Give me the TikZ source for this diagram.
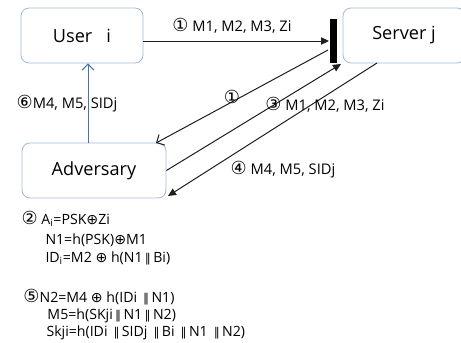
\documentclass[tikz,border=0pt]{standalone}
\usepackage{fontspec}
\setmainfont{Open Sans}
\newfontfamily\symf{DejaVu Sans}
\usetikzlibrary{arrows.meta}
\newcommand{\cn}[1]{{\symf\fontsize{13.5}{13.5}\selectfont #1}}
\newcommand{\xor}{{\symf ⊕}}
\newcommand{\cat}{\,{\symf\fontsize{9}{9}\selectfont ∥}\,}
\tikzset{every picture/.style={line width=0.75pt}}

\begin{document}
\begin{tikzpicture}[x=0.75pt,y=0.75pt,yscale=-1,xscale=1,
    party/.style={draw={rgb, 255:red, 160; green, 184; blue, 214}, rounded corners=6pt, line width=0.6pt,
      minimum height=41.25pt, inner sep=0pt, font=\fontsize{13.6}{16}\selectfont},
    msg/.style={draw={rgb, 255:red, 30; green, 30; blue, 30}, line width=0.75pt, -{Triangle[length=6pt,width=5.5pt]}},
    fake/.style={draw={rgb, 255:red, 30; green, 30; blue, 30}, line width=0.75pt, -{Straight Barb[length=4.5pt,width=9pt]}},
    lbl/.style={inner sep=0pt, font=\fontsize{11}{13}\selectfont},
    eqn/.style={inner sep=0pt, anchor=west, font=\fontsize{10.6}{12}\selectfont}]
    %uncomment if require: \path (0,343); %set diagram left start at 0, and has height of 343
    \clip (0,0) rectangle (461,343);

    %Rounded Rect
    \node [party, minimum width=91.5pt] (user) at (82,35.5) {User\ \ \ i};
    %Rounded Rect
    \node [party, minimum width=91.5pt] (server) at (404,35.5) {Server j};
    %Rounded Rect
    \node [party, minimum width=108pt] (adv) at (94,170.5) {Adversary};

    %Shape: Rectangle (blocking bar)
    \node [fill=black, inner sep=0pt, minimum width=5.25pt, minimum height=33pt] (bar) at (333,41) {};

    %points where the lines meet
    \coordinate (hit1) at (328,50);
    \coordinate (hit3) at (341,64);
    \coordinate (advtop) at (156,143);
    \coordinate (advcorner) at (168,196);
    \coordinate (srvfoot) at (377,63);

    %Straight Lines
    \draw [msg] (bar.west -| user.east) -- (bar.west);
    %Straight Lines
    \draw [fake] (hit1) -- (advtop);
    %Straight Lines
    \draw [msg] (adv.east) -- (hit3);
    %Straight Lines
    \draw [msg] (srvfoot) -- (advcorner);
    %Straight Lines
    \draw [draw={rgb, 255:red, 74; green, 114; blue, 174}, line width=0.75pt, -{Straight Barb[length=4.5pt,width=9pt]}] (adv.north -| 88,0) -- (user.south -| 88,0);

    %labels
    \node [lbl] (m1) at (232,26) {\cn{①} M1, M2, M3, Zi};
    \node [lbl] (m1b) at (232,97) {\cn{①}};
    \node [lbl] (m3) at (325,105) {\cn{③} M1, M2, M3, Zi};
    \node [lbl] (m4) at (283,170) {\cn{④} M4, M5, SIDj};
    \node [lbl] (m6) at (67,104) {\cn{⑥}M4, M5, SIDj};

    %equations
    \node [eqn] (e1) at (21,219) {\cn{②} A\textsubscript{i}=PSK\xor Zi};
    \node [eqn] (e2) at (45,240) {N1=h(PSK)\xor M1};
    \node [eqn] (e3) at (45,258) {ID\textsubscript{i}=M2 \xor{} h(N1\cat Bi)};
    \node [eqn] (e4) at (23,297) {\cn{⑤}N2=M4 \xor{} h(IDi \cat N1)};
    \node [eqn] (e5) at (47,316) {M5=h(SKji\cat N1\cat N2)};
    \node [eqn] (e6) at (46,333) {Skji=h(IDi \cat SIDj \cat Bi \cat N1 \cat N2)};
\end{tikzpicture}
\end{document}
